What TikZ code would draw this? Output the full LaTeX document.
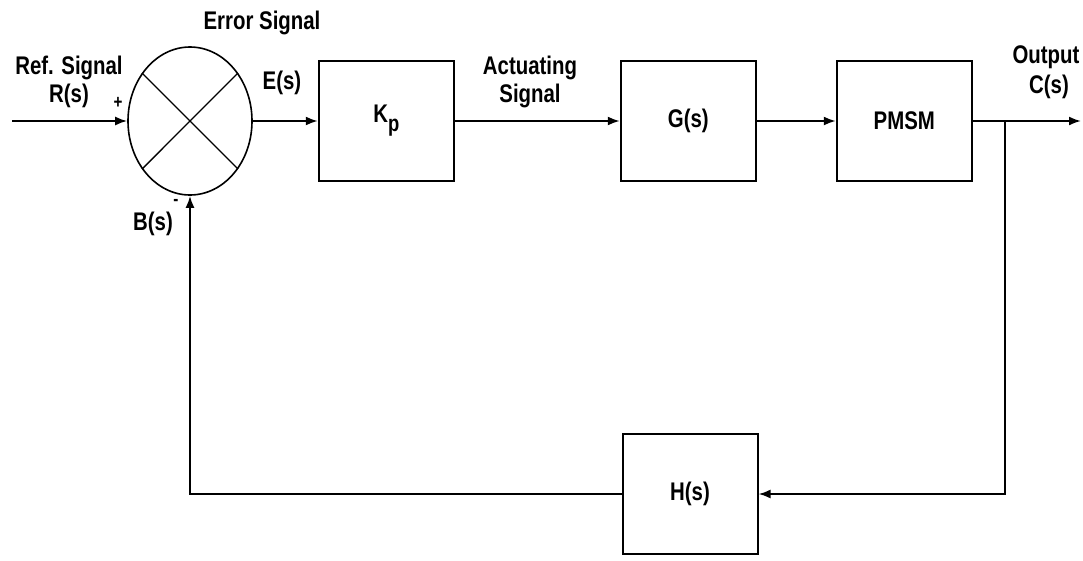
\documentclass[tikz,border=0pt]{standalone}
\usepackage{fontspec}
\setmainfont{Liberation Sans}[FakeStretch=0.8]
\usetikzlibrary{arrows.meta,positioning,shapes.geometric}
\newcommand{\sigfont}{\bfseries\fontsize{25.5}{28}\selectfont}
\tikzset{
  blk/.style={draw, line width=2pt, minimum width=135pt, minimum height=120pt,
    inner sep=0pt, font=\sigfont},
  sumjn/.style={ellipse, draw, line width=1.6pt, minimum width=124pt,
    minimum height=148pt, inner sep=0pt},
  sig/.style={-{Latex[length=12pt,width=9pt]}, line width=2pt},
  lbl/.style={font=\sigfont, align=center, inner sep=0pt},
  sgn/.style={font=\bfseries\fontsize{19}{19}\selectfont, inner sep=0pt}
}
\begin{document}
\begin{tikzpicture}[x=1pt,y=-1pt]
        \useasboundingbox (0,0) rectangle (1083,560);
        \node[sumjn] (sum) at (190,121) {};
        \draw[line width=1.4pt] (sum.45) -- (sum.225) (sum.135) -- (sum.315);
        \node[blk,right=65pt of sum] (kp) {K\raisebox{-9pt}{\fontsize{23}{23}\selectfont p}};
        \node[blk,right=165pt of kp] (g) {G(s)};
        \node[blk,right=79pt of g] (pmsm) {PMSM};
        \node[blk] (h) at (690,494) {H(s)};

        \coordinate (in) at (12,121);
        \coordinate (out) at (1081,121);
        \coordinate (tap) at (1005,121);

        \draw[sig] (in) -- (sum.west);
        \draw[sig] (sum.east) -- (kp.west);
        \draw[sig] (kp.east) -- (g.west);
        \draw[sig] (g.east) -- (pmsm.west);
        \draw[sig] (pmsm.east) -- (out);
        \draw[sig] (tap) |- (h.east);
        \draw[sig] (h.west) -| (sum.south);

        \node[lbl] (ref) at (69,82) {Ref. Signal\\R(s)};
        \node[sgn] (plus) at (118,103) {+};
        \node[sgn] (minus) at (176,202) {-};
        \node[lbl] (err) at (262,23) {Error Signal};
        \node[lbl] (es) at (282,83) {E(s)};
        \node[lbl] (bs) at (153,224) {B(s)};
        \node[lbl] (act) at (530,82) {Actuating\\Signal};
        \node[lbl] (outlbl) at (1046,72) {Output\\[2pt]\hspace*{6pt}C(s)};
      \end{tikzpicture}
\end{document}
